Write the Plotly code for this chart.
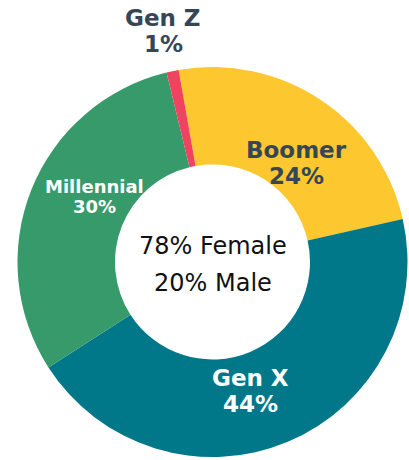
import plotly.graph_objects as go

labels = ["Boomer", "Gen X", "Millennial", "Gen Z"]
values = [24, 44, 30, 1]
colors = ["#FDC72F", "#00788A", "#379A6A", "#F0435F"]
text_colors = ["#354657", "#FFFFFF", "#FFFFFF", "#354657"]
center_lines = ["78% Female", "20% Male"]

W, H = 409, 460
cx, cy, r = 212.5, 262, 195

fig = go.Figure(go.Pie(
    labels=labels,
    values=values,
    sort=False,
    direction="clockwise",
    rotation=-10,
    hole=0.5,
    marker=dict(colors=colors, line=dict(width=0)),
    textinfo="none",
    hoverinfo="skip",
    showlegend=False,
    domain=dict(x=[(cx - r) / W, (cx + r) / W], y=[1 - (cy + r) / H, 1 - (cy - r) / H]),
))

# label placement (pixel centres of name line / value line) and font size
label_layout = {
    "Boomer": dict(x=296, y1=150, y2=176, size=23),
    "Gen X": dict(x=250, y1=378, y2=404, size=23),
    "Millennial": dict(x=94, y1=186, y2=207, size=18),
    "Gen Z": dict(x=163, y1=18, y2=44, size=23),
}
bold_font = "DejaVu Sans, Inter, sans-serif"
for lab, val, tc in zip(labels, values, text_colors):
    p = label_layout[lab]
    for txt, yy in ((lab, p["y1"]), (f"{val}%", p["y2"])):
        fig.add_annotation(
            x=p["x"] / W, y=1 - yy / H, xref="paper", yref="paper",
            xanchor="center", yanchor="middle",
            text=f"<b>{txt}</b>", showarrow=False,
            font=dict(family=bold_font, size=p["size"], color=tc),
        )

for txt, yy in zip(center_lines, (246, 283)):
    fig.add_annotation(
        x=cx / W, y=1 - yy / H, xref="paper", yref="paper",
        xanchor="center", yanchor="middle",
        text=txt, showarrow=False,
        font=dict(family="DejaVu Sans, Inter, sans-serif", size=24, color="#111111"),
    )

fig.update_layout(
    width=W, height=H,
    margin=dict(l=0, r=0, t=0, b=0),
    paper_bgcolor="white",
    plot_bgcolor="white",
)
fig.write_html("out.html")
